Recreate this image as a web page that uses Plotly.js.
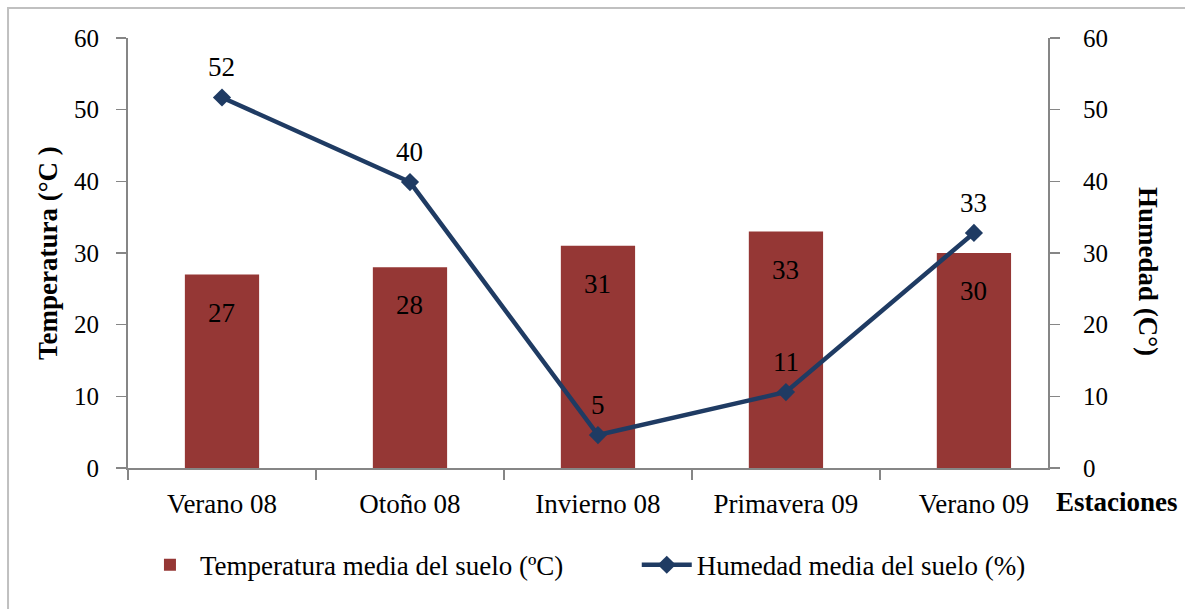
<!DOCTYPE html>
<html>
<head>
<meta charset="utf-8">
<script src="https://cdn.plot.ly/plotly-3.0.1.min.js"></script>
<style>html,body{margin:0;padding:0;background:#fff;}#chart{width:1185px;height:609px;}</style>
</head>
<body>
<div id="chart"></div>
<script>
const categories = ["Verano 08", "Otoño 08", "Invierno 08", "Primavera 09", "Verano 09"];
const temperatura = [27, 28, 31, 33, 30];
const humedad = [51.7, 39.9, 4.6, 10.6, 32.8];
const tempName = "Temperatura media del suelo (ºC)";
const humName = "Humedad media del suelo (%)";
const yTicks = [0, 10, 20, 30, 40, 50, 60];

const FONT = "Liberation Serif";
const FS = 25;
const FS2 = 27;
const barColor = "#953735";
const lineColor = "#1f3b63";
const axisColor = "#868686";

const traces = [
  {
    type: "bar", name: tempName, x: categories, y: temperatura,
    marker: {color: barColor}, width: 0.395, yaxis: "y", hoverinfo: "skip", legend: "legend"
  },
  {
    type: "scatter", mode: "lines+markers", name: humName, x: categories, y: humedad,
    yaxis: "y2", line: {color: lineColor, width: 4.5},
    marker: {symbol: "diamond", size: 14, color: lineColor}, hoverinfo: "skip", legend: "legend2"
  }
];

const annotations = [];
categories.forEach((c, i) => {
  annotations.push({x: c, y: temperatura[i], xref: "x", yref: "y", text: String(temperatura[i]),
    showarrow: false, yshift: -38, xanchor: "center", yanchor: "middle",
    font: {family: FONT, size: FS2, color: "#000"}});
  annotations.push({x: c, y: humedad[i], xref: "x", yref: "y2", text: String(Math.round(humedad[i])),
    showarrow: false, yshift: 30, xanchor: "center", yanchor: "middle",
    font: {family: FONT, size: FS2, color: "#000"}});
});
annotations.push({xref: "paper", yref: "paper", x: -0.087, y: 0.5, text: "<b>Temperatura (°C )</b>",
  textangle: -90, showarrow: false, xanchor: "center", yanchor: "middle",
  font: {family: FONT, size: FS2, color: "#000"}});
annotations.push({xref: "paper", yref: "paper", x: 1.1087, y: 0.458, text: "<b>Humedad (C°)</b>",
  textangle: 90, showarrow: false, xanchor: "center", yanchor: "middle",
  font: {family: FONT, size: FS2, color: "#000"}});
annotations.push({xref: "paper", yref: "paper", x: 1.0745, y: -0.079, text: "<b>Estaciones</b>",
  showarrow: false, xanchor: "center", yanchor: "middle",
  font: {family: FONT, size: FS2, color: "#000"}});

const axisCommon = {
  range: [0, 60], tickvals: yTicks, showgrid: false, zeroline: false,
  showline: true, linecolor: axisColor, linewidth: 2,
  ticks: "outside", ticklen: 10, tickwidth: 1.5, tickcolor: axisColor,
  tickfont: {family: FONT, size: FS, color: "#000"}, fixedrange: true
};

const legendCommon = {orientation: "h", xanchor: "left", y: -0.226, yanchor: "middle",
  font: {family: FONT, size: FS2, color: "#000"}, itemwidth: 50, bgcolor: "rgba(0,0,0,0)"};

const layout = {
  width: 1185, height: 609,
  margin: {l: 128, r: 137, t: 38, b: 141},
  paper_bgcolor: "#fff", plot_bgcolor: "#fff",
  font: {family: FONT, color: "#000"},
  showlegend: true,
  legend: Object.assign({}, legendCommon, {x: 0.013}),
  legend2: Object.assign({}, legendCommon, {x: 0.553}),
  xaxis: {type: "category", range: [-0.5, 4.394], showgrid: false, zeroline: false,
    showline: true, linecolor: axisColor, linewidth: 2,
    ticks: "outside", tickson: "boundaries", ticklen: 10, tickwidth: 1.5, tickcolor: axisColor,
    ticklabelstandoff: 11,
    tickfont: {family: FONT, size: FS2, color: "#000"}, fixedrange: true},
  yaxis: Object.assign({}, axisCommon, {side: "left", ticklabelstandoff: 12}),
  yaxis2: Object.assign({}, axisCommon, {side: "right", overlaying: "y", ticklabelstandoff: 18}),
  annotations: annotations,
  shapes: [{type: "rect", xref: "paper", yref: "paper", x0: -0.1304, y0: -2, x1: 2, y1: 1.0698,
    line: {color: "#c0c0c0", width: 2}, fillcolor: "rgba(0,0,0,0)", layer: "below"}]
};

Plotly.newPlot("chart", traces, layout, {displayModeBar: false, staticPlot: true});
</script>
</body>
</html>
